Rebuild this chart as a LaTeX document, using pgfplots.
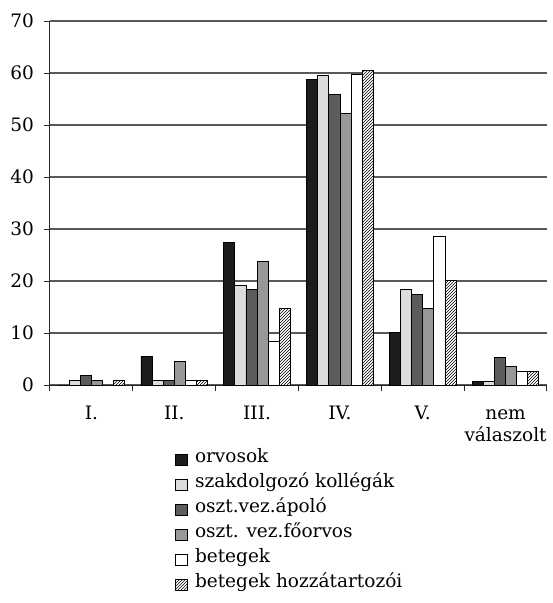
\documentclass[border=0pt]{standalone}
\usepackage{fontspec}
\setmainfont{DejaVu Serif}
\usepackage{pgfplots}
\pgfplotsset{compat=1.18}
\usetikzlibrary{patterns}
\definecolor{cBlack}{HTML}{1C1C1C}
\definecolor{cLight}{HTML}{DCDCDC}
\definecolor{cDark}{HTML}{5C5C5C}
\definecolor{cMid}{HTML}{989898}
\begin{document}
\begin{tikzpicture}[font=\fontsize{18.5}{22}\selectfont]
\path[use as bounding box] (-50pt,-218pt) rectangle (503pt,385pt);
\begin{axis}[
  at={(0pt,0pt)}, anchor=south west,
  scale only axis, width=497pt, height=364pt,
  ybar=0pt, bar width=11.1pt,
  xmin=-0.5, xmax=5.5, ymin=0, ymax=70,
  axis lines=left,
  axis line style={-, draw=black!85, line width=1pt},
  tick align=outside, major tick length=6pt,
  tick style={draw=black!85, line width=1pt},
  /pgf/number format/assume math mode=true,
  xtick={-0.5,0.5,1.5,2.5,3.5,4.5,5.5}, xticklabels={},
  extra x ticks={0,1,2,3,4,5},
  extra x tick labels={{I.\strut}, {II.\strut}, {III.\strut}, {IV.\strut}, {V.\strut}, {nem\strut\\válaszolt}},
  extra x tick style={major tick length=0pt, grid=none},
  xticklabel style={align=center, anchor=north, inner sep=0pt, yshift=-21pt, font=\fontsize{18.5}{19}\selectfont},
  ytick={0,10,...,70},
  yticklabel style={inner sep=0pt, anchor=east, xshift=-10pt},
  ymajorgrids, grid style={draw=black!65, line width=1.2pt},
  every axis plot/.append style={draw=black, line width=0.8pt},
  legend image code/.code={\draw[#1] (0pt,-5.5pt) rectangle (11.5pt,5.5pt); \path (16pt,0pt);},
  legend style={at={(0.2455,-0.165)}, anchor=north west, draw=none, fill=none,
    legend cell align=left, row sep=0pt,
    nodes={inner xsep=3pt, inner ysep=0pt, text height=15pt, text depth=10pt}},
]
\addplot[fill=cBlack] coordinates {(0,0) (1,5.5) (2,27.4) (3,58.7) (4,10.1) (5,0.7)};
\addplot[fill=cLight] coordinates {(0,0.8) (1,0.8) (2,19.2) (3,59.6) (4,18.3) (5,0.7)};
\addplot[fill=cDark] coordinates {(0,1.8) (1,0.8) (2,18.3) (3,55.8) (4,17.4) (5,5.3)};
\addplot[fill=cMid] coordinates {(0,0.9) (1,4.5) (2,23.8) (3,52.3) (4,14.7) (5,3.6)};
\addplot[fill=white] coordinates {(0,0) (1,0.8) (2,8.3) (3,59.7) (4,28.5) (5,2.6)};
\addplot[fill=white, postaction={pattern=north east lines}] coordinates {(0,0.8) (1,0.8) (2,14.7) (3,60.5) (4,20.1) (5,2.6)};
\legend{orvosok, szakdolgozó kollégák, oszt.vez.ápoló, oszt. vez.főorvos, betegek, betegek hozzátartozói}
\end{axis}
\end{tikzpicture}
\end{document}
